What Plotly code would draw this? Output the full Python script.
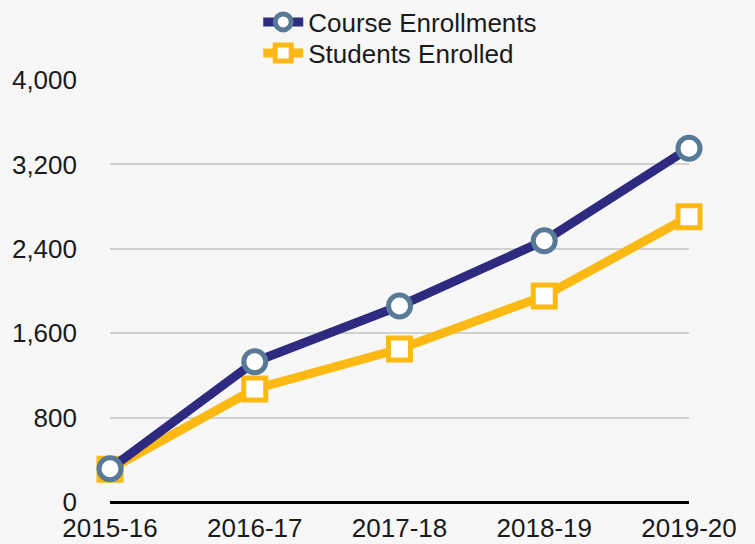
import plotly.graph_objects as go

years = ["2015-16", "2016-17", "2017-18", "2018-19", "2019-20"]
course_enrollments = [315, 1330, 1858, 2477, 3353]
students_enrolled = [310, 1071, 1450, 1953, 2704]
y_ticks = [0, 800, 1600, 2400, 3200, 4000]
y_tick_labels = ["0", "800", "1,600", "2,400", "3,200", "4,000"]

FONT = "Liberation Sans"
FS = 26

fig = go.Figure()
fig.add_trace(go.Scatter(
    x=years, y=students_enrolled, name="Students Enrolled",
    mode="lines+markers", cliponaxis=False, legend="legend2",
    line=dict(color="#fdb913", width=9),
    marker=dict(symbol="square", size=22, color="white",
                line=dict(color="#fdb913", width=5)),
))
fig.add_trace(go.Scatter(
    x=years, y=course_enrollments, name="Course Enrollments",
    mode="lines+markers", cliponaxis=False, legend="legend",
    line=dict(color="#2e2a80", width=9),
    marker=dict(symbol="circle", size=22, color="white",
                line=dict(color="#587a96", width=5)),
))

leg_common = dict(xanchor="left", yanchor="middle", bgcolor="rgba(0,0,0,0)",
                  font=dict(size=FS), itemwidth=40)

fig.update_layout(
    width=755, height=544,
    margin=dict(l=110, r=66, t=80, b=42, autoexpand=False),
    paper_bgcolor="#f7f7f7", plot_bgcolor="#f7f7f7",
    font=dict(family=FONT, size=FS, color="#1a1a1a"),
    showlegend=True,
    legend=dict(x=0.256, y=1 + (80 - 22) / 422, **leg_common),
    legend2=dict(x=0.256, y=1 + (80 - 53) / 422, **leg_common),
    xaxis=dict(type="category", range=[0, 4], showgrid=False,
               showline=False, zeroline=False, ticks="",
               ticklabelstandoff=8, tickfont=dict(size=FS)),
    yaxis=dict(range=[0, 4000], tickvals=y_ticks, ticktext=y_tick_labels,
               showgrid=True, gridcolor="#d0d0d0", gridwidth=1.5,
               zeroline=True, zerolinecolor="#000000", zerolinewidth=3,
               showline=False, ticks="", ticklabelstandoff=32,
               tickfont=dict(size=FS)),
)

fig.write_html("out.html", config={"displayModeBar": False},
               post_script="document.body.style.margin='0';document.body.style.background='#f7f7f7';")
